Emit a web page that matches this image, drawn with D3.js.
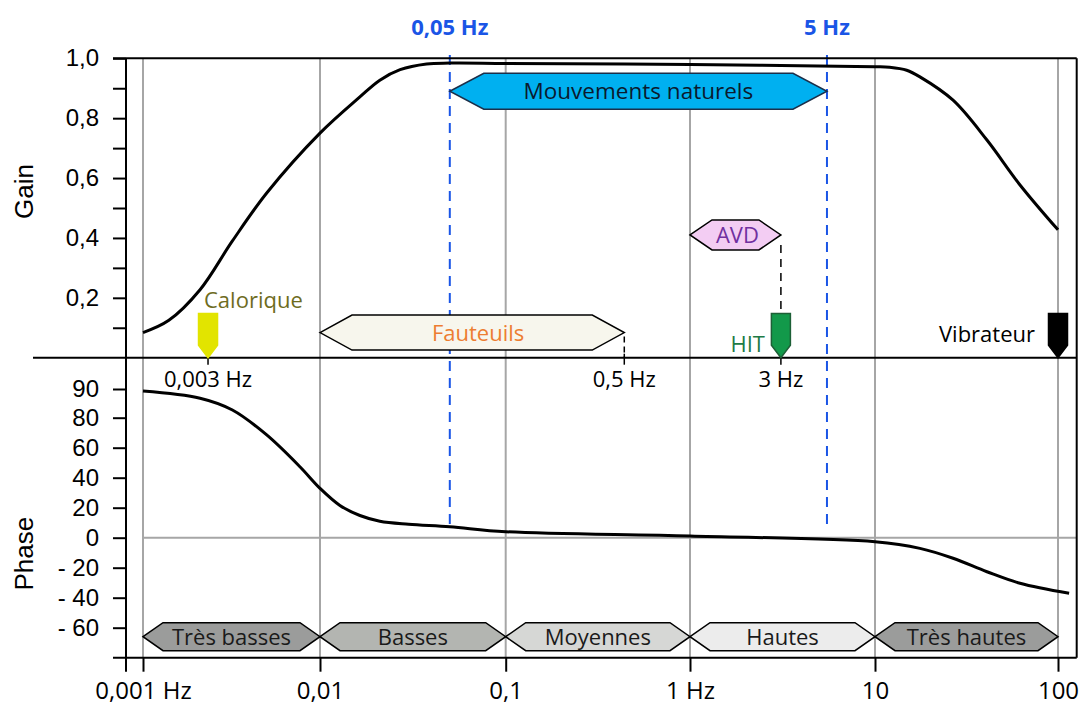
<!DOCTYPE html>
<html>
<head>
<meta charset="utf-8">
<script src="https://cdn.jsdelivr.net/npm/d3@7"></script>
<style>
  body { margin: 0; background: #fff; }
  svg { display: block; }
</style>
</head>
<body>
<div id="chart"></div>
<script>
// values
const gainFreq  = [0.001, 0.0014, 0.0021, 0.0032, 0.005, 0.01, 0.0164, 0.021, 0.027, 0.0375, 0.05, 0.1, 1, 10, 12, 14.9, 17.6, 26.7, 40.9, 62, 100];
const gainValue = [0.084, 0.125, 0.227, 0.39, 0.55, 0.75, 0.871, 0.927, 0.962, 0.981, 0.984, 0.983, 0.979, 0.972, 0.97, 0.96, 0.938, 0.86, 0.727, 0.577, 0.427];

const phaseFreq  = [0.001, 0.0021, 0.0032, 0.005, 0.0077, 0.01, 0.0128, 0.0164, 0.021, 0.03, 0.05, 0.1, 1, 10, 17.6, 26.7, 40.9, 62, 115];
const phaseValue = [89.3, 86.8, 82.7, 68.5, 47.3, 32.9, 21.5, 14.8, 11, 9, 7.3, 4, 1.1, -2.7, -7.1, -13.7, -22.7, -30.4, -37.1];

const decades = [0.001, 0.01, 0.1, 1, 10, 100];
const decadeLabels = ["0,001 Hz", "0,01", "0,1", "1 Hz", "10", "100"];
const bandNames = ["Très basses", "Basses", "Moyennes", "Hautes", "Très hautes"];
const bandColors = ["#9b9c9b", "#b3b5b1", "#d6d7d5", "#ececec", "#9b9c9b"];

const gainTicks = [0.1, 0.2, 0.3, 0.4, 0.5, 0.6, 0.7, 0.8, 0.9, 1.0];
const phaseTicks = [90, 80, 60, 40, 20, 0, -20, -40, -60];

// frequency ranges / markers (positions as drawn, labels as written)
const naturalRange = [0.05, 5.5];
const naturalLabels = ["0,05 Hz", "5 Hz"];
const chairRange = [0.01, 0.44];
const avdRange = [1, 3.1];
const markerNames = ["Calorique", "HIT", "Vibrateur"];
const markerFreq = [0.00233, 3.1, 100];
const markerColors = ["#e2e400", "#12994a", "#000000"];
const markerStrokes = ["#e2e400", "#1d5f36", "#000000"];
const markerTextColors = ["#6e6c1e", "#217a45", "#000000"];
const freqLabels = ["0,003 Hz", "0,5 Hz", "3 Hz"];
const freqLabelFreq = [0.00233, 0.44, 3.1];

const width = 1080, height = 706;
const svg = d3.select("#chart").append("svg")
  .attr("width", width).attr("height", height);

const x = d3.scaleLog().domain(decades).range([143, 320, 505.7, 690, 875, 1058]);
const yGain = d3.scaleLinear().domain([0, 1]).range([357.7, 58.3]);
const yPhase = d3.scaleLinear().domain([-80, 80, 90]).range([657.7, 417.7, 389]);

const axisX = 126, rightX = 1076.7;
const calibri = "'Open Sans', sans-serif";
const arial = "'Liberation Sans', Arial, sans-serif";

// grid
svg.append("g").selectAll("line").data(decades).join("line")
  .attr("x1", d => x(d)).attr("x2", d => x(d))
  .attr("y1", yGain(1)).attr("y2", yPhase(-80))
  .attr("stroke", "#a6a6a6").attr("stroke-width", 2);
svg.append("line")
  .attr("x1", x(0.001)).attr("x2", rightX)
  .attr("y1", yPhase(0)).attr("y2", yPhase(0))
  .attr("stroke", "#a6a6a6").attr("stroke-width", 2);

// blue dashed limits
svg.append("g").selectAll("line").data(naturalRange).join("line")
  .attr("x1", d => x(d)).attr("x2", d => x(d))
  .attr("y1", 55).attr("y2", yPhase(6))
  .attr("stroke", "#1a55e6").attr("stroke-width", 2)
  .attr("stroke-dasharray", "10,7");
svg.append("g").selectAll("text").data(naturalRange).join("text")
  .attr("x", d => x(d)).attr("y", 35)
  .attr("text-anchor", "middle")
  .style("font-family", calibri).style("font-weight", "bold").style("font-size", "22px")
  .attr("fill", "#1a55e6")
  .text((d, i) => naturalLabels[i]);

// frame
const frame = svg.append("g").attr("stroke", "#000").attr("stroke-width", 2);
frame.append("line").attr("x1", 113).attr("x2", rightX).attr("y1", yGain(1)).attr("y2", yGain(1));
frame.append("line").attr("x1", 33).attr("x2", rightX).attr("y1", yGain(0)).attr("y2", yGain(0));
frame.append("line").attr("x1", 113).attr("x2", rightX).attr("y1", yPhase(-80)).attr("y2", yPhase(-80));
frame.append("line").attr("x1", rightX).attr("x2", rightX).attr("y1", yGain(1)).attr("y2", yPhase(-80));
frame.append("line").attr("x1", axisX).attr("x2", axisX).attr("y1", yGain(1)).attr("y2", yPhase(-80) + 14);

// axes
const gAxis = svg.append("g").attr("transform", `translate(${axisX},0)`)
  .call(d3.axisLeft(yGain).tickValues(gainTicks).tickSize(13).tickPadding(14)
    .tickFormat(d => Math.round(d * 10) % 2 === 0 ? d.toFixed(1).replace(".", ",") : ""));
const pAxis = svg.append("g").attr("transform", `translate(${axisX},0)`)
  .call(d3.axisLeft(yPhase).tickValues(phaseTicks).tickSize(13).tickPadding(14)
    .tickFormat(d => d < 0 ? "- " + (-d) : String(d)));
[gAxis, pAxis].forEach(a => {
  a.select(".domain").remove();
  a.selectAll(".tick line").attr("stroke", "#000").attr("stroke-width", 2);
  a.selectAll(".tick text").style("font-family", arial).style("font-size", "24px").attr("fill", "#000");
});

const xAxis = svg.append("g").attr("transform", `translate(0,${yPhase(-80)})`)
  .call(d3.axisBottom(x).tickValues(decades).tickSize(14)
    .tickFormat((d, i) => decadeLabels[i]));
xAxis.select(".domain").remove();
xAxis.selectAll(".tick line").attr("stroke", "#000").attr("stroke-width", 2);
xAxis.selectAll(".tick text").attr("dy", null).attr("y", 41)
  .style("font-family", calibri).style("font-size", "24px").attr("fill", "#000");

svg.append("text").attr("transform", `translate(33,${(yGain(0.555))}) rotate(-90)`)
  .attr("text-anchor", "middle").style("font-family", arial).style("font-size", "26px").text("Gain");
svg.append("text").attr("transform", `translate(33,${yPhase(-10.7)}) rotate(-90)`)
  .attr("text-anchor", "middle").style("font-family", arial).style("font-size", "26px").text("Phase");

// hexagon arrow shape
function hexPath(x0, x1, cy, h, d) {
  const p = d3.path();
  p.moveTo(x0, cy);
  p.lineTo(x0 + d, cy - h / 2);
  p.lineTo(x1 - d, cy - h / 2);
  p.lineTo(x1, cy);
  p.lineTo(x1 - d, cy + h / 2);
  p.lineTo(x0 + d, cy + h / 2);
  p.closePath();
  return p.toString();
}

// frequency bands at the bottom
const bands = bandNames.map((n, i) => ({ name: n, f0: decades[i], f1: decades[i + 1], color: bandColors[i] }));
const bandY = yPhase(-66);
const bg = svg.append("g").selectAll("g").data(bands).join("g");
bg.append("path")
  .attr("d", d => hexPath(x(d.f0), x(d.f1), bandY, 28, 20))
  .attr("fill", d => d.color).attr("stroke", "#000").attr("stroke-width", 1.5);
bg.append("text")
  .attr("x", d => (x(d.f0) + x(d.f1)) / 2).attr("y", bandY + 8)
  .attr("text-anchor", "middle")
  .style("font-family", calibri).style("font-size", "22px").attr("fill", "#1a1a1a")
  .text(d => d.name);

// curves
const line = d3.line().curve(d3.curveCatmullRom.alpha(0.5));
svg.append("path")
  .attr("d", line(gainFreq.map((f, i) => [x(f), yGain(gainValue[i])])))
  .attr("fill", "none").attr("stroke", "#000").attr("stroke-width", 3);
svg.append("path")
  .attr("d", line(phaseFreq.map((f, i) => [x(f), yPhase(phaseValue[i])])))
  .attr("fill", "none").attr("stroke", "#000").attr("stroke-width", 3);

// Mouvements naturels
const natY = yGain(0.89);
svg.append("path")
  .attr("d", hexPath(x(naturalRange[0]), x(naturalRange[1]), natY, 36, 34))
  .attr("fill", "#00b0f0").attr("stroke", "#1b2f4a").attr("stroke-width", 1.5);
svg.append("text")
  .attr("x", (x(naturalRange[0]) + x(naturalRange[1])) / 2).attr("y", natY + 8)
  .attr("text-anchor", "middle")
  .style("font-family", calibri).style("font-size", "22.5px").attr("fill", "#0b1a2e")
  .text("Mouvements naturels");

// Fauteuils
const chairY = yGain(0.084);
svg.append("path")
  .attr("d", hexPath(x(chairRange[0]), x(chairRange[1]), chairY, 35, 32))
  .attr("fill", "#f7f6ed").attr("stroke", "#000").attr("stroke-width", 1.5);
svg.append("text")
  .attr("x", (x(chairRange[0]) + x(chairRange[1])) / 2 + 6).attr("y", chairY + 8)
  .attr("text-anchor", "middle")
  .style("font-family", calibri).style("font-size", "22px").attr("fill", "#ed7d31")
  .text("Fauteuils");
svg.append("line")
  .attr("x1", x(chairRange[1])).attr("x2", x(chairRange[1]))
  .attr("y1", chairY + 4).attr("y2", yGain(0))
  .attr("stroke", "#000").attr("stroke-width", 1.5).attr("stroke-dasharray", "6,4");

// AVD
const avdY = yGain(0.41);
svg.append("path")
  .attr("d", hexPath(x(avdRange[0]), x(avdRange[1]), avdY, 30, 22))
  .attr("fill", "#f3cdf3").attr("stroke", "#000").attr("stroke-width", 1.5);
svg.append("text")
  .attr("x", (x(avdRange[0]) + x(avdRange[1])) / 2 + 2).attr("y", avdY + 8)
  .attr("text-anchor", "middle")
  .style("font-family", calibri).style("font-size", "22px").attr("fill", "#7030a0")
  .text("AVD");
svg.append("line")
  .attr("x1", x(avdRange[1])).attr("x2", x(avdRange[1]))
  .attr("y1", avdY + 10).attr("y2", yGain(0.15))
  .attr("stroke", "#000").attr("stroke-width", 1.5).attr("stroke-dasharray", "8,6");

// small ticks below the divider for marked frequencies
svg.append("g").selectAll("line").data(freqLabelFreq).join("line")
  .attr("x1", d => x(d)).attr("x2", d => x(d))
  .attr("y1", yGain(0) - 4).attr("y2", yGain(0) + 7)
  .attr("stroke", "#000").attr("stroke-width", 1.5);
svg.append("g").selectAll("text").data(freqLabelFreq).join("text")
  .attr("x", d => x(d)).attr("y", yGain(0) + 29)
  .attr("text-anchor", "middle")
  .style("font-family", calibri).style("font-size", "22px").attr("fill", "#000")
  .text((d, i) => freqLabels[i]);

// stimulus markers (pentagons pointing down)
function markerPath(cx) {
  const w = 19, top = yGain(0.148), shoulder = yGain(0.042), tip = yGain(0);
  return `M${cx - w / 2},${top}L${cx + w / 2},${top}L${cx + w / 2},${shoulder}L${cx},${tip}L${cx - w / 2},${shoulder}Z`;
}
const markers = markerNames.map((n, i) => ({ name: n, f: markerFreq[i], fill: markerColors[i], stroke: markerStrokes[i], tc: markerTextColors[i] }));
const mg = svg.append("g").selectAll("g").data(markers).join("g");
mg.append("path")
  .attr("d", d => markerPath(x(d.f)))
  .attr("fill", d => d.fill).attr("stroke", d => d.stroke).attr("stroke-width", 1.5);
mg.append("text")
  .attr("x", d => d.name === "Calorique" ? x(d.f) - 4 : x(d.f) - 16 - (d.name === "Vibrateur" ? 7 : 0))
  .attr("y", d => d.name === "Calorique" ? yGain(0.167) : d.name === "HIT" ? yGain(0.02) : yGain(0.053))
  .attr("text-anchor", d => d.name === "Calorique" ? "start" : "end")
  .style("font-family", calibri).style("font-size", "22px").attr("fill", d => d.tc)
  .text(d => d.name);
</script>
</body>
</html>
